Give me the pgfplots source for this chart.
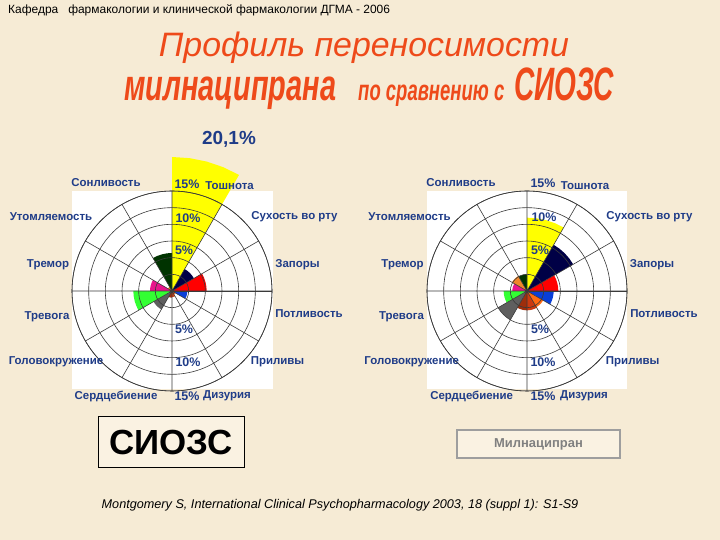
\documentclass[border=0pt]{standalone}
\usepackage{pgfplots}
\pgfplotsset{compat=1.18}
\usepgfplotslibrary{polar}
\usepackage{fontspec}
\setmainfont{Liberation Sans}
\usepackage{graphicx}

\definecolor{bg}{HTML}{F6EBD5}
\definecolor{boxbg}{HTML}{FAF2E2}
\definecolor{navytext}{HTML}{1F3C88}
\definecolor{titlec}{HTML}{EE4A1A}
\definecolor{gridc}{HTML}{3A3A3A}
\definecolor{cA}{HTML}{FFFF00}
\definecolor{cB}{HTML}{000046}
\definecolor{cC}{HTML}{FF0000}
\definecolor{cD}{HTML}{0A3FD8}
\definecolor{cE}{HTML}{FF6A13}
\definecolor{cF}{HTML}{CC3A10}
\definecolor{cG}{HTML}{9E2E0C}
\definecolor{cH}{HTML}{5F5F5F}
\definecolor{cI}{HTML}{33FF33}
\definecolor{cJ}{HTML}{E8158C}
\definecolor{cK}{HTML}{F0862A}
\definecolor{cL}{HTML}{003300}

\pgfplotsset{rose/.style={
  scale only axis, width=200bp, height=200bp, anchor=center,
  ymin=0, ymax=15, enlargelimits=false,
  xtick={0,30,...,330}, ytick={2.5,5,...,15},
  xticklabels={}, yticklabels={},
  xmajorgrids, ymajorgrids, major tick length=0pt,
  grid style={draw=gridc, line width=0.6bp},
  axis line style={draw=gridc, line width=0.6bp},
  axis on top, clip=false}}

\newcommand{\lab}[3]{\node[text=navytext, font=\bfseries\fontsize{11.5}{13}\selectfont, inner sep=0pt] at (#1,#2) {#3};}
\newcommand{\pct}[3]{\node[text=navytext, font=\bfseries\fontsize{12.5}{14}\selectfont, inner sep=0pt] at (#1,#2) {#3};}

\begin{document}
\begin{tikzpicture}[x=1bp, y=1bp]
\useasboundingbox (0,0) rectangle (720,540);
\fill[bg] (0,0) rectangle (720,540);

% header and title
\node[anchor=west, inner sep=0pt, font=\fontsize{12}{13}\selectfont] at (8,530) {Кафедра \ \ фармакологии и клинической фармакологии ДГМА - 2006};
\node[anchor=base, inner sep=0pt, text=titlec, font=\fontsize{34}{40}\selectfont\itshape] at (364,483) {Профиль переносимости};
\node[anchor=base west, inner sep=0pt, text=titlec, font=\fontsize{44}{46}\selectfont\bfseries\itshape] at (124,439) {\scalebox{0.66}[1]{милнаципрана}};
\node[anchor=base west, inner sep=0pt, text=titlec, font=\fontsize{29}{32}\selectfont\bfseries\itshape] at (358,439) {\scalebox{0.64}[1]{по сравнению с}};
\node[anchor=base west, inner sep=0pt, text=titlec, font=\fontsize{47}{50}\selectfont\bfseries\itshape] at (514,439) {\scalebox{0.6}[1]{СИОЗС}};

% white panels
\fill[white] (72,151) rectangle (273,349);
\fill[white] (427,151) rectangle (627,349);

% left chart: SSRI
\begin{polaraxis}[rose, at={(172bp,249bp)}]
\addplot[fill=cA, draw=none] coordinates {(0,0) (60,20.1) (67.5,20.1) (75,20.1) (82.5,20.1) (90,20.1) (0,0)};
\addplot[fill=cB, draw=none] coordinates {(0,0) (30,3.8) (37.5,3.8) (45,3.8) (52.5,3.8) (60,3.8) (0,0)};
\addplot[fill=cC, draw=none] coordinates {(0,0) (0,5.2) (7.5,5.2) (15,5.2) (22.5,5.2) (30,5.2) (0,0)};
\addplot[fill=cD, draw=none] coordinates {(0,0) (330,2.3) (337.5,2.3) (345,2.3) (352.5,2.3) (360,2.3) (0,0)};
\addplot[fill=cE, draw=none] coordinates {(0,0) (300,0.6) (307.5,0.6) (315,0.6) (322.5,0.6) (330,0.6) (0,0)};
\addplot[fill=cF, draw=none] coordinates {(0,0) (270,0.9) (277.5,0.9) (285,0.9) (292.5,0.9) (300,0.9) (0,0)};
\addplot[fill=cG, draw=none] coordinates {(0,0) (240,1.0) (247.5,1.0) (255,1.0) (262.5,1.0) (270,1.0) (0,0)};
\addplot[fill=cH, draw=none] coordinates {(0,0) (210,3.2) (217.5,3.2) (225,3.2) (232.5,3.2) (240,3.2) (0,0)};
\addplot[fill=cI, draw=none] coordinates {(0,0) (180,5.8) (187.5,5.8) (195,5.8) (202.5,5.8) (210,5.8) (0,0)};
\addplot[fill=cJ, draw=none] coordinates {(0,0) (150,3.3) (157.5,3.3) (165,3.3) (172.5,3.3) (180,3.3) (0,0)};
\addplot[fill=cK, draw=none] coordinates {(0,0) (120,0.7) (127.5,0.7) (135,0.7) (142.5,0.7) (150,0.7) (0,0)};
\addplot[fill=cL, draw=none] coordinates {(0,0) (90,5.7) (97.5,5.7) (105,5.7) (112.5,5.7) (120,5.7) (0,0)};
\end{polaraxis}

% right chart: milnacipran
\begin{polaraxis}[rose, at={(527bp,249bp)}]
\addplot[fill=cA, draw=none] coordinates {(0,0) (60,11.0) (67.5,11.0) (75,11.0) (82.5,11.0) (90,11.0) (0,0)};
\addplot[fill=cB, draw=none] coordinates {(0,0) (30,8.0) (37.5,8.0) (45,8.0) (52.5,8.0) (60,8.0) (0,0)};
\addplot[fill=cC, draw=none] coordinates {(0,0) (0,4.7) (7.5,4.7) (15,4.7) (22.5,4.7) (30,4.7) (0,0)};
\addplot[fill=cD, draw=none] coordinates {(0,0) (330,4.0) (337.5,4.0) (345,4.0) (352.5,4.0) (360,4.0) (0,0)};
\addplot[fill=cE, draw=none] coordinates {(0,0) (300,2.8) (307.5,2.8) (315,2.8) (322.5,2.8) (330,2.8) (0,0)};
\addplot[fill=cF, draw=none] coordinates {(0,0) (270,2.9) (277.5,2.9) (285,2.9) (292.5,2.9) (300,2.9) (0,0)};
\addplot[fill=cG, draw=none] coordinates {(0,0) (240,2.9) (247.5,2.9) (255,2.9) (262.5,2.9) (270,2.9) (0,0)};
\addplot[fill=cH, draw=none] coordinates {(0,0) (210,5.0) (217.5,5.0) (225,5.0) (232.5,5.0) (240,5.0) (0,0)};
\addplot[fill=cI, draw=none] coordinates {(0,0) (180,3.5) (187.5,3.5) (195,3.5) (202.5,3.5) (210,3.5) (0,0)};
\addplot[fill=cJ, draw=none] coordinates {(0,0) (150,2.2) (157.5,2.2) (165,2.2) (172.5,2.2) (180,2.2) (0,0)};
\addplot[fill=cK, draw=none] coordinates {(0,0) (120,2.6) (127.5,2.6) (135,2.6) (142.5,2.6) (150,2.6) (0,0)};
\addplot[fill=cL, draw=none] coordinates {(0,0) (90,2.5) (97.5,2.5) (105,2.5) (112.5,2.5) (120,2.5) (0,0)};
\end{polaraxis}

% left labels
\node[text=navytext, font=\bfseries\fontsize{19}{22}\selectfont, inner sep=0pt] at (229,401) {20,1\%};
\lab{106}{357}{Сонливость}
\pct{187}{356}{15\%}
\lab{229.5}{354}{Тошнота}
\lab{51}{323}{Утомляемость}
\pct{188}{322}{10\%}
\lab{294.5}{323}{Сухость во рту}
\lab{48}{275}{Тремор}
\pct{184}{290}{5\%}
\lab{297.5}{275}{Запоры}
\lab{47}{223}{Тревога}
\lab{309}{226}{Потливость}
\pct{184}{211}{5\%}
\lab{56}{178}{Головокружение}
\pct{188}{178}{10\%}
\lab{277.5}{178}{Приливы}
\lab{116}{144}{Сердцебиение}
\pct{187}{144}{15\%}
\lab{227}{144}{Дизурия}

% right labels
\lab{461}{357}{Сонливость}
\pct{543}{357}{15\%}
\lab{585}{354}{Тошнота}
\lab{409.5}{323}{Утомляемость}
\pct{544}{323}{10\%}
\lab{649.5}{323}{Сухость во рту}
\lab{402.5}{275}{Тремор}
\pct{540}{290}{5\%}
\lab{652}{275}{Запоры}
\lab{401.5}{223}{Тревога}
\lab{664}{226}{Потливость}
\pct{540}{211}{5\%}
\lab{411.7}{178}{Головокружение}
\pct{543}{178}{10\%}
\lab{632.7}{178}{Приливы}
\lab{471.7}{144}{Сердцебиение}
\pct{543}{144}{15\%}
\lab{584}{144}{Дизурия}

% boxes
\draw[black, line width=1bp, fill=boxbg] (98,72) rectangle (244,123);
\node[font=\bfseries\fontsize{35}{40}\selectfont, inner sep=0pt] at (171,97.5) {СИОЗС};
\draw[draw=black!38, line width=1.2bp, fill=boxbg] (457,82) rectangle (620,110);
\node[text=black!50, font=\bfseries\fontsize{13}{15}\selectfont, inner sep=0pt] at (538.5,96) {Милнаципран};

% citation
\node[font=\itshape\fontsize{12.7}{15}\selectfont, inner sep=0pt] at (340,35) {Montgomery S, International Clinical Psychopharmacology 2003, 18 (suppl 1): S1-S9};
\end{tikzpicture}
\end{document}
